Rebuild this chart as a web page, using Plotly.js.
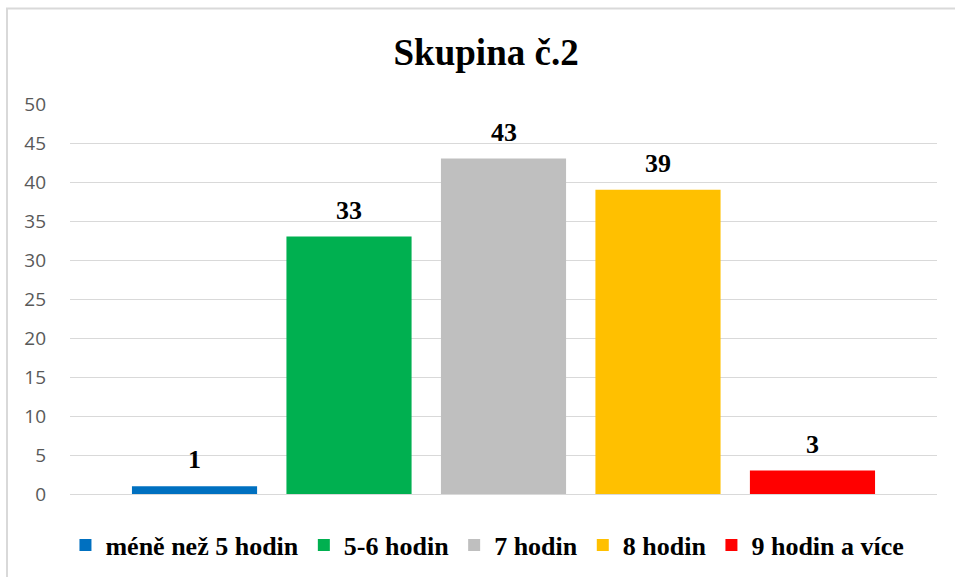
<!DOCTYPE html>
<html>
<head>
<meta charset="utf-8">
<script src="https://cdn.plot.ly/plotly-3.0.1.min.js"></script>
<style>html,body{margin:0;padding:0;background:#fff;}#chart{width:955px;height:577px;}</style>
</head>
<body>
<div id="chart"></div>
<script>
const categories = ["méně než 5 hodin", "5-6 hodin", "7 hodin", "8 hodin", "9 hodin a více"];
const values = [1, 33, 43, 39, 3];
const colors = ["#0070C0", "#00B050", "#BFBFBF", "#FFC000", "#FF0000"];
const yTicks = [0, 5, 10, 15, 20, 25, 30, 35, 40, 45, 50];

const serif = "'Liberation Serif', 'Times New Roman', serif";

const traces = categories.map((c, i) => ({
  type: "bar",
  name: c,
  x: [c],
  y: [values[i]],
  width: 0.81,
  marker: {color: colors[i]},
  hoverinfo: "skip"
}));

const labels = categories.map((c, i) => ({
  x: c, y: values[i], xref: "x", yref: "y",
  text: "<b>" + values[i] + "</b>",
  showarrow: false, yanchor: "bottom", yshift: 10,
  font: {family: serif, size: 26, color: "#000"}
}));

// plot area px: x 70..937, y 104..494
const px = v => (v - 70) / 867;
const py = v => (494 - v) / 390;

const layout = {
  width: 955, height: 577,
  margin: {l: 70, r: 18, t: 104, b: 83, autoexpand: false},
  paper_bgcolor: "#fff", plot_bgcolor: "#fff",
  barmode: "overlay",
  showlegend: true,
  title: {
    text: "<b>Skupina č.2</b>",
    font: {family: serif, size: 37, color: "#000"},
    x: 0.509, xanchor: "center",
    y: 1 - 52/577, yanchor: "middle", yref: "container"
  },
  xaxis: {
    type: "category",
    categoryarray: categories,
    range: [-0.806, 4.806],
    showticklabels: false,
    showgrid: false, zeroline: false, showline: false, ticks: ""
  },
  yaxis: {
    range: [0, 50],
    tickvals: yTicks,
    ticktext: yTicks.map(String),
    showgrid: true, gridcolor: "#D9D9D9", gridwidth: 1,
    zeroline: true, zerolinecolor: "#D9D9D9", zerolinewidth: 1,
    showline: false, ticks: "",
    ticklabelstandoff: 23,
    tickfont: {family: "'Open Sans', sans-serif", size: 19, color: "#595959"}
  },
  legend: {
    orientation: "h",
    x: 0.4815, xanchor: "center",
    yref: "container",
    y: 1 - 545/577, yanchor: "middle",
    font: {family: serif, size: 26, color: "#000", weight: "bold"},
    itemwidth: 30,
    traceorder: "normal"
  },
  annotations: labels,
  shapes: [{
    type: "rect", xref: "paper", yref: "paper",
    x0: px(7), x1: px(970), y0: py(595), y1: py(8.5),
    line: {color: "#D9D9D9", width: 2}, fillcolor: "rgba(0,0,0,0)", layer: "below"
  }]
};

Plotly.newPlot("chart", traces, layout, {staticPlot: true, displayModeBar: false});
</script>
</body>
</html>
